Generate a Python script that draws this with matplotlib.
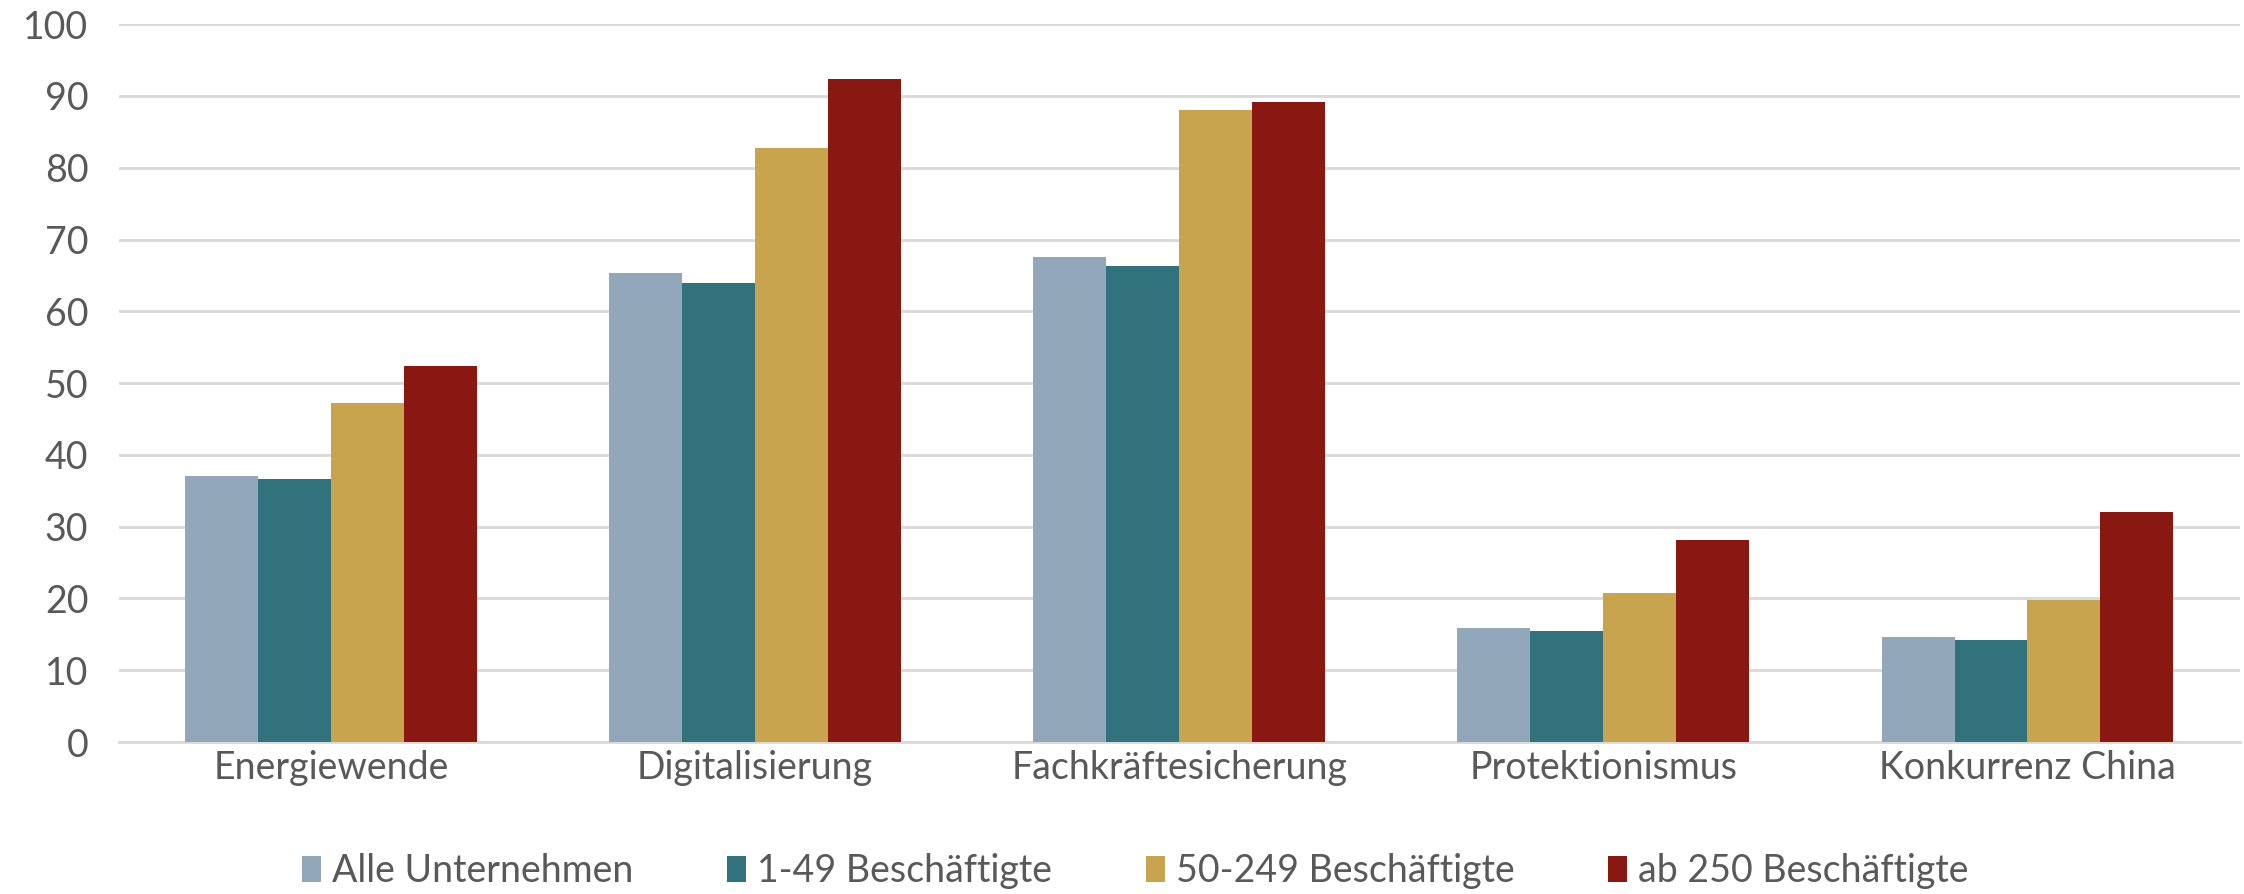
import matplotlib.pyplot as plt
import numpy as np

plt.rcParams['font.family'] = ['Lato', 'DejaVu Sans']

categories = ["Energiewende", "Digitalisierung", "Fachkräftesicherung",
              "Protektionismus", "Konkurrenz China"]
series = ["Alle Unternehmen", "1-49 Beschäftigte", "50-249 Beschäftigte",
          "ab 250 Beschäftigte"]
alle = [37.1, 65.3, 67.6, 15.9, 14.6]
klein = [36.6, 64.0, 66.3, 15.5, 14.2]
mittel = [47.2, 82.7, 88.1, 20.7, 19.8]
gross = [52.4, 92.4, 89.1, 28.1, 32.0]
colors = ["#93A7BB", "#31727C", "#C9A44F", "#891812"]

values = [alle, klein, mittel, gross]
text_col = "#595959"

fig = plt.figure(figsize=(22.44, 8.94), dpi=100)
ax = fig.add_axes([0.053, 0.170, 0.945, 0.803])

x = np.arange(len(categories))
w = 0.172
for i, (vals, name, c) in enumerate(zip(values, series, colors)):
    ax.bar(x + (i - 1.5) * w, vals, w, color=c, label=name, zorder=3)

ax.set_xlim(-0.5, len(categories) - 0.5)
ax.set_ylim(0, 100)
ax.set_yticks(range(0, 101, 10))
ax.set_xticks(x)
ax.set_xticklabels(categories)
ax.yaxis.grid(True, color="#D9D9D9", linewidth=2, zorder=0)
ax.tick_params(axis="both", length=0, labelsize=27, colors=text_col)
ax.tick_params(axis="x", pad=6)
ax.tick_params(axis="y", pad=22)
for s in ["top", "right", "left"]:
    ax.spines[s].set_visible(False)
ax.spines["bottom"].set_color("#D9D9D9")
ax.spines["bottom"].set_linewidth(2)

leg = fig.legend(loc="center", bbox_to_anchor=(0.506, 0.026), ncol=4,
                 frameon=False, fontsize=27, handlelength=0.5,
                 handleheight=0.7, handletextpad=0.3, columnspacing=2.5)
for t in leg.get_texts():
    t.set_color(text_col)

fig.savefig("out.png", dpi=100)
